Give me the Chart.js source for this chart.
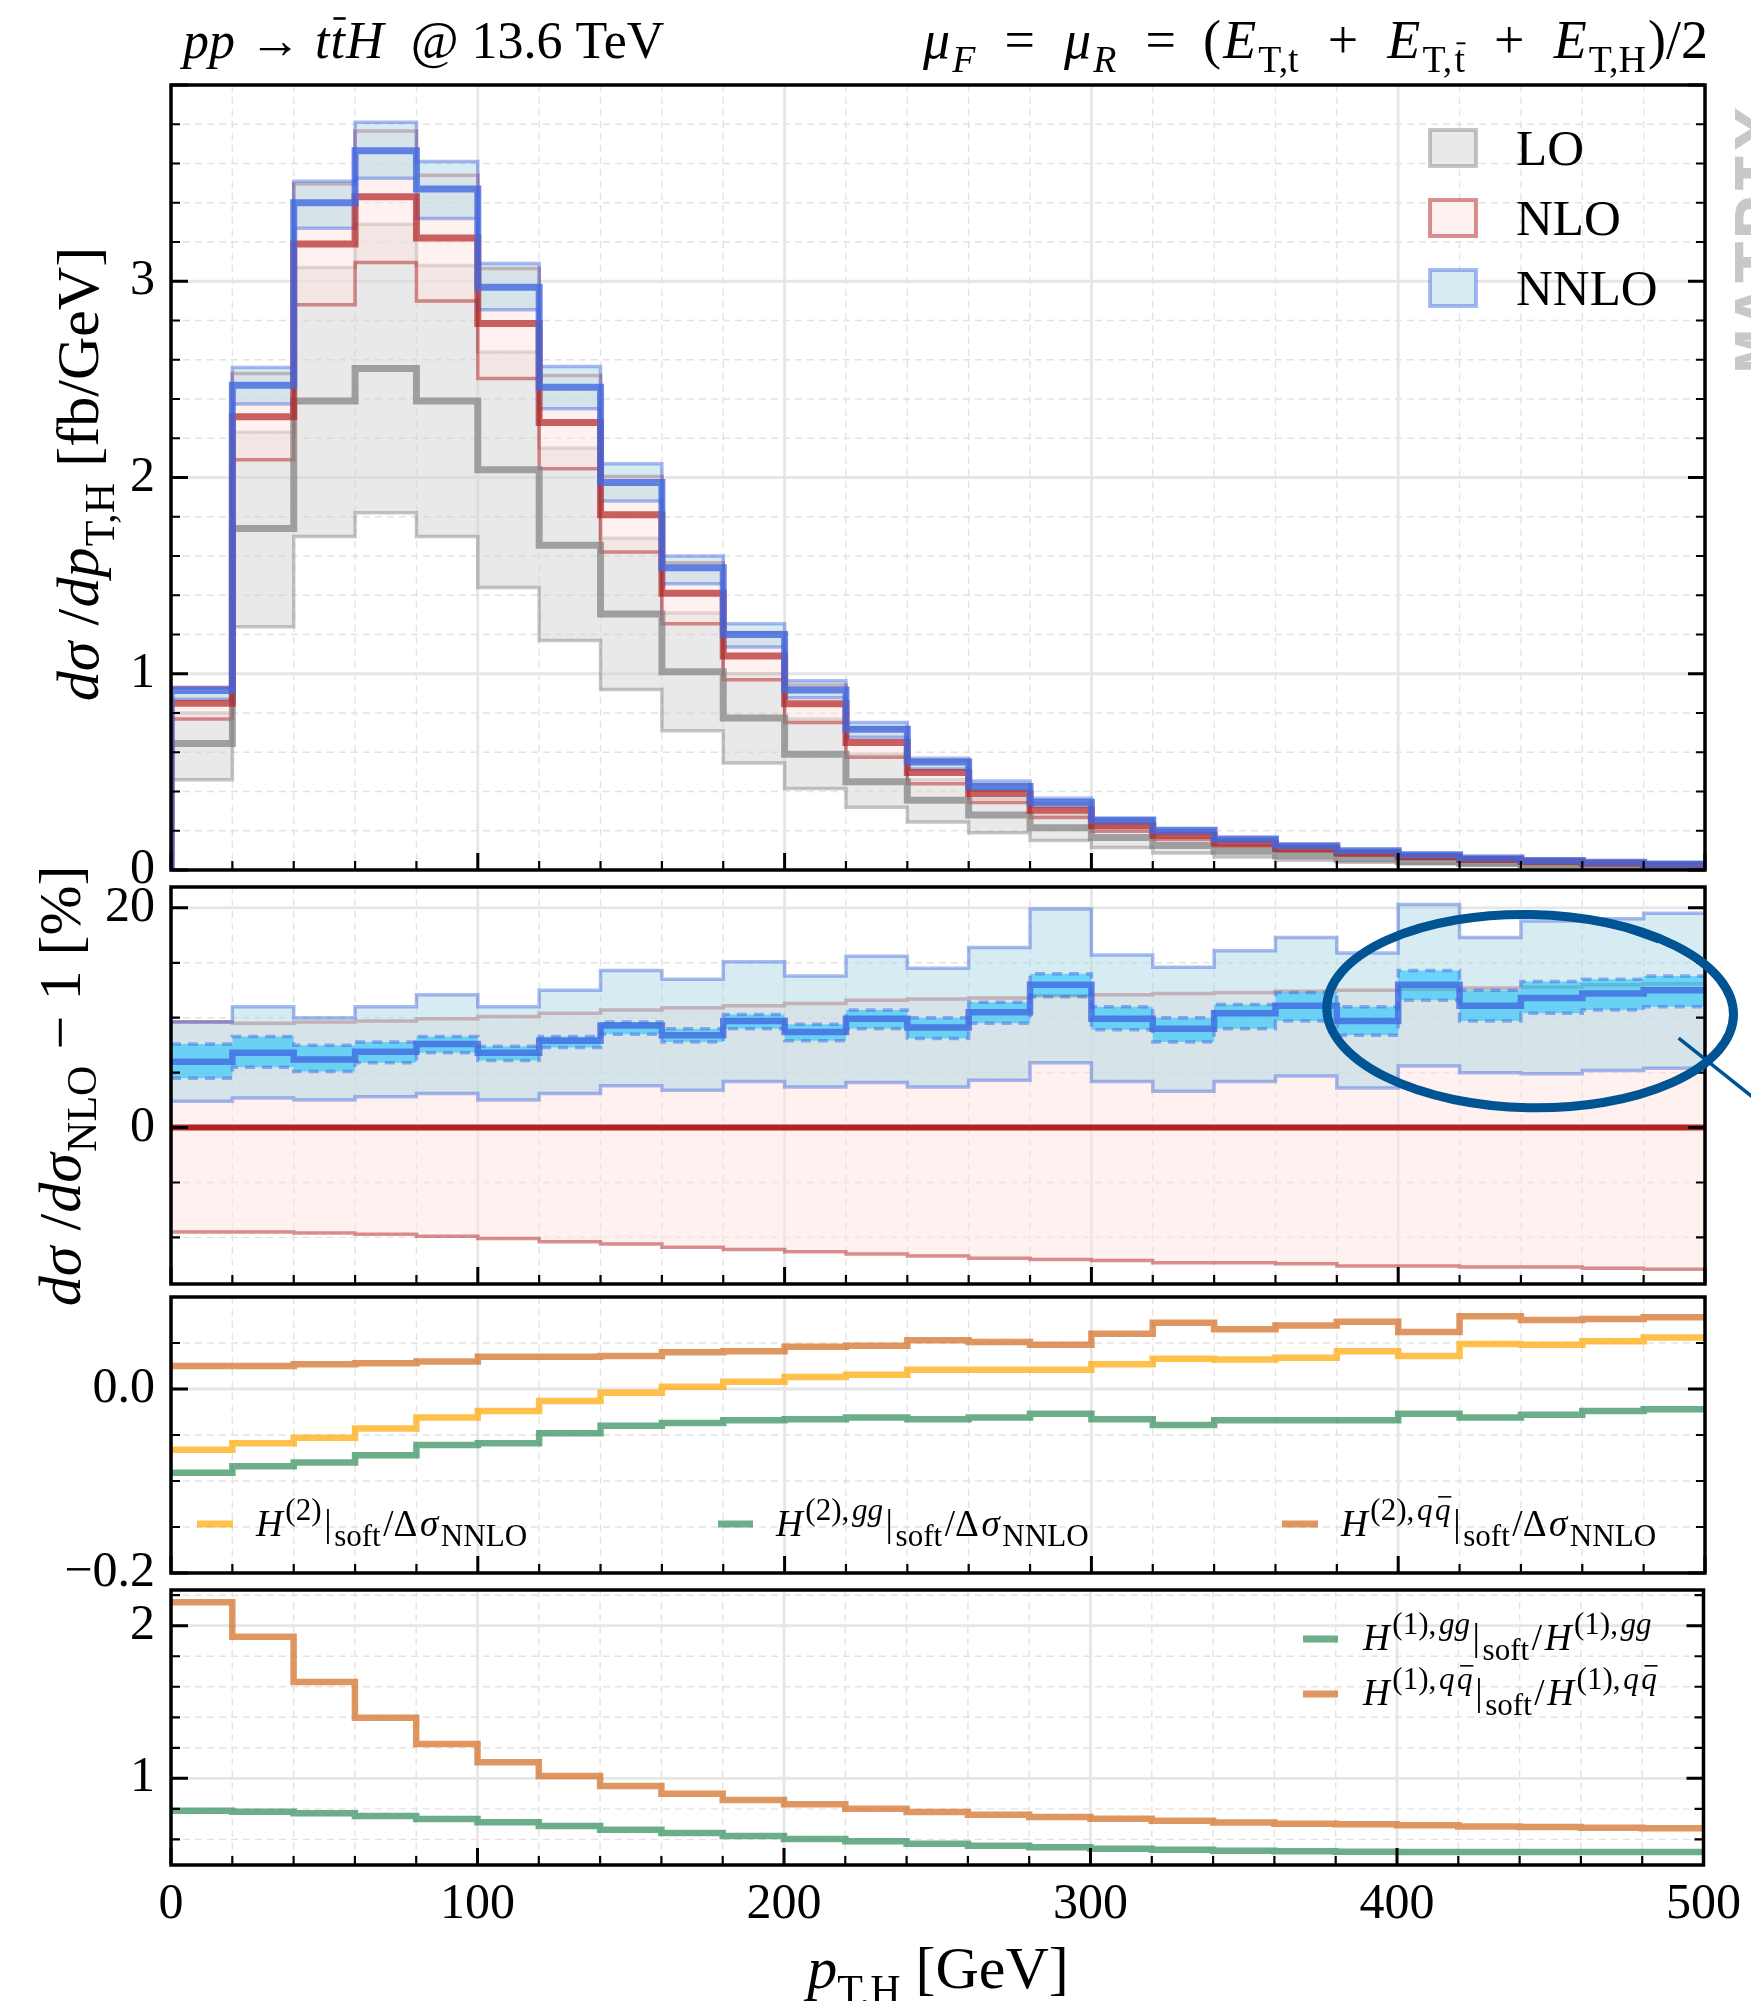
<!DOCTYPE html>
<html>
<head>
<meta charset="utf-8">
<script src="https://cdn.jsdelivr.net/npm/chart.js@4.4.1/dist/chart.umd.min.js"></script>
<style>
  html, body { margin: 0; padding: 0; background: #fff; }
  #wrap { position: relative; width: 1751px; height: 2001px; overflow: hidden; }
  #wrap canvas { position: absolute; left: 0; top: 0; }
</style>
</head>
<body>
<div id="wrap">
  <canvas id="c_dist" width="1751" height="2001"></canvas>
  <canvas id="c_ratio" width="1751" height="2001"></canvas>
  <canvas id="c_h2" width="1751" height="2001"></canvas>
  <canvas id="c_h1" width="1751" height="2001"></canvas>
</div>
<script>
// bin edges in p_T,H [GeV]
const binEdges = [0, 20, 40, 60, 80, 100, 120, 140, 160, 180, 200, 220, 240, 260, 280, 300, 320, 340, 360, 380, 400, 420, 440, 460, 480, 500];
const xTicks = [0, 100, 200, 300, 400, 500];

// PANEL 1: d sigma / d pT,H [fb/GeV]
const loCentral = [0.645, 1.74, 2.39, 2.555, 2.39, 2.04, 1.655, 1.305, 1.01, 0.775, 0.59, 0.45, 0.355, 0.28, 0.215, 0.165, 0.125, 0.095, 0.073, 0.056, 0.043, 0.034, 0.027, 0.021, 0.017];
const loUpper = [0.80, 2.23, 3.07, 3.29, 3.08, 2.64, 2.15, 1.69, 1.31, 1.00, 0.77, 0.59, 0.46, 0.365, 0.28, 0.215, 0.165, 0.125, 0.096, 0.074, 0.057, 0.045, 0.036, 0.028, 0.022];
const loLower = [0.46, 1.24, 1.70, 1.82, 1.70, 1.44, 1.17, 0.92, 0.71, 0.545, 0.415, 0.32, 0.245, 0.19, 0.15, 0.115, 0.087, 0.066, 0.05, 0.039, 0.03, 0.024, 0.019, 0.015, 0.012];
const nloCentral = [0.85, 2.31, 3.19, 3.43, 3.22, 2.785, 2.28, 1.81, 1.41, 1.09, 0.847, 0.65, 0.497, 0.39, 0.305, 0.225, 0.177, 0.138, 0.11, 0.086, 0.068, 0.054, 0.043, 0.034, 0.027];
const nloUpper = [0.93, 2.53, 3.495, 3.765, 3.54, 3.065, 2.52, 2.005, 1.565, 1.21, 0.943, 0.725, 0.555, 0.436, 0.342, 0.252, 0.199, 0.155, 0.124, 0.097, 0.077, 0.061, 0.049, 0.038, 0.031];
const nloLower = [0.77, 2.09, 2.88, 3.095, 2.9, 2.505, 2.045, 1.62, 1.255, 0.97, 0.752, 0.575, 0.44, 0.344, 0.268, 0.198, 0.155, 0.121, 0.096, 0.075, 0.059, 0.047, 0.038, 0.03, 0.024];
const nnloCentral = [0.915, 2.47, 3.40, 3.665, 3.47, 2.97, 2.46, 1.975, 1.54, 1.20, 0.917, 0.717, 0.55, 0.425, 0.345, 0.255, 0.203, 0.158, 0.124, 0.098, 0.078, 0.061, 0.049, 0.039, 0.031];
const nnloUpper = [0.93, 2.56, 3.51, 3.81, 3.61, 3.09, 2.565, 2.07, 1.60, 1.255, 0.964, 0.752, 0.569, 0.454, 0.366, 0.26, 0.203, 0.16, 0.129, 0.1, 0.082, 0.063, 0.051, 0.04, 0.032];
const nnloLower = [0.87, 2.375, 3.27, 3.525, 3.32, 2.855, 2.35, 1.88, 1.458, 1.136, 0.878, 0.677, 0.515, 0.407, 0.323, 0.234, 0.183, 0.144, 0.115, 0.089, 0.072, 0.057, 0.045, 0.036, 0.028];
const distTicks = [0, 1, 2, 3];

// PANEL 2: ratio to NLO - 1 [%]
const ratioNlo = [0, 0, 0, 0, 0, 0, 0, 0, 0, 0, 0, 0, 0, 0, 0, 0, 0, 0, 0, 0, 0, 0, 0, 0, 0];
const ratioNloUp = [9.6, 9.5, 9.6, 9.7, 9.9, 10.1, 10.4, 10.7, 10.9, 11.1, 11.3, 11.6, 11.7, 11.8, 12.0, 12.1, 12.2, 12.3, 12.4, 12.5, 12.6, 12.7, 12.8, 13.0, 13.1];
const ratioNloDown = [-9.5, -9.5, -9.6, -9.7, -9.9, -10.1, -10.4, -10.6, -10.9, -11.1, -11.3, -11.5, -11.7, -11.9, -12.0, -12.1, -12.3, -12.3, -12.4, -12.6, -12.6, -12.7, -12.7, -12.8, -12.9];
const ratioNnlo = [6.0, 6.8, 6.2, 6.9, 7.6, 6.8, 7.9, 9.3, 8.4, 9.7, 8.7, 9.9, 9.1, 10.5, 13.0, 9.9, 9.0, 10.4, 11.1, 9.7, 13.0, 11.1, 11.8, 12.2, 12.5];
const ratioNnloUp = [9.6, 11.0, 10.0, 11.0, 12.1, 11.0, 12.5, 14.3, 13.5, 15.1, 13.8, 15.6, 14.5, 16.4, 19.9, 15.7, 14.6, 16.1, 17.3, 15.9, 20.3, 17.3, 18.8, 19.0, 19.5];
const ratioNnloDown = [2.4, 2.7, 2.5, 2.8, 3.1, 2.5, 3.1, 3.8, 3.4, 4.2, 3.7, 4.1, 3.7, 4.3, 5.9, 4.2, 3.3, 4.2, 4.7, 3.6, 5.6, 5.0, 4.9, 5.2, 5.4];
const ratioNumUp = [7.6, 8.3, 7.5, 7.8, 8.3, 7.4, 8.3, 9.6, 9.0, 10.3, 9.4, 10.7, 10.0, 11.4, 14.0, 11.0, 10.0, 11.2, 12.3, 11.0, 14.3, 12.5, 13.3, 13.5, 13.8];
const ratioNumDown = [4.5, 5.5, 5.1, 5.9, 6.8, 6.1, 7.3, 8.5, 7.8, 9.0, 7.9, 9.0, 8.1, 9.5, 11.9, 8.9, 7.8, 9.0, 9.7, 8.4, 11.6, 9.7, 10.4, 10.7, 11.0];
const ratioTicks = [0, 20];

// PANEL 3: H(2) soft / delta sigma NNLO
const h2SoftTotal = [-0.066, -0.059, -0.053, -0.043, -0.031, -0.024, -0.013, -0.004, 0.0025, 0.008, 0.013, 0.0156, 0.021, 0.021, 0.021, 0.027, 0.033, 0.032, 0.034, 0.041, 0.036, 0.049, 0.048, 0.052, 0.056];
const h2SoftGG = [-0.091, -0.084, -0.080, -0.072, -0.061, -0.059, -0.048, -0.040, -0.037, -0.034, -0.033, -0.031, -0.033, -0.031, -0.027, -0.033, -0.039, -0.034, -0.034, -0.034, -0.027, -0.031, -0.028, -0.024, -0.022];
const h2SoftQQ = [0.025, 0.025, 0.027, 0.028, 0.030, 0.035, 0.035, 0.036, 0.040, 0.041, 0.046, 0.047, 0.053, 0.051, 0.048, 0.060, 0.072, 0.065, 0.069, 0.073, 0.062, 0.079, 0.075, 0.076, 0.078];
const h2Ticks = [-0.2, 0];

// PANEL 4: H(1) soft / H(1)
const h1SoftGG = [0.788, 0.781, 0.771, 0.753, 0.733, 0.712, 0.687, 0.663, 0.642, 0.622, 0.602, 0.587, 0.571, 0.558, 0.548, 0.539, 0.532, 0.526, 0.522, 0.519, 0.517, 0.517, 0.517, 0.517, 0.517];
const h1SoftQQ = [2.153, 1.928, 1.631, 1.397, 1.225, 1.105, 1.015, 0.95, 0.899, 0.858, 0.83, 0.801, 0.779, 0.762, 0.747, 0.735, 0.722, 0.711, 0.703, 0.699, 0.692, 0.685, 0.681, 0.676, 0.672];
const h1Ticks = [1, 2];

const SERIF = '"Liberation Serif", "DejaVu Serif", serif';
Chart.defaults.font.family = SERIF;
Chart.defaults.color = '#000';

const C = {
  loLine: 'rgba(128,128,128,0.7)', loEdge: 'rgba(128,128,128,0.45)', loBand: 'rgba(211,211,211,0.5)',
  nloLine: 'rgba(178,34,34,0.7)', nloEdge: 'rgba(178,34,34,0.5)', nloBand: 'rgba(255,228,225,0.5)',
  nloSolid: 'rgb(178,34,34)',
  nnloLine: 'rgba(65,105,225,0.8)', nnloEdge: 'rgba(65,105,225,0.45)', nnloBand: 'rgba(173,216,230,0.5)',
  numEdge: 'rgba(65,105,225,0.5)', numBand: 'rgba(0,191,255,0.5)',
  yellow: 'rgba(255,165,0,0.7)', green: 'rgba(46,139,87,0.7)', brown: 'rgba(210,105,30,0.7)'
};

function stairs(vals, fromZero) {
  const pts = fromZero ? [{ x: binEdges[0], y: 0 }] : [];
  vals.forEach((v, i) => pts.push({ x: binEdges[i], y: v }));
  pts.push({ x: binEdges[vals.length], y: vals[vals.length - 1] });
  return pts;
}

function stepLine(label, vals, color, width, order, more) {
  const o = more || {};
  return {
    label: label,
    data: stairs(vals, o.fromZero),
    borderColor: color,
    borderWidth: width,
    borderDash: o.dash || [],
    backgroundColor: o.fillColor || 'transparent',
    fill: o.fillColor ? '+1' : false,
    stepped: true,
    pointRadius: 0,
    borderJoinStyle: 'miter',
    borderCapStyle: 'butt',
    order: order
  };
}

function multiples(min, max, step) {
  const out = [];
  for (let k = Math.ceil(min / step - 1e-6); k * step <= max + 1e-6; k++) out.push(+(k * step).toFixed(6));
  return out;
}
function isMajor(v, major) {
  const r = v / major;
  return Math.abs(r - Math.round(r)) < 1e-6;
}

// grid behind, frame + inward ticks on top
const framePlugin = {
  id: 'frame',
  beforeDatasetsDraw(chart, args, o) {
    const { ctx, chartArea: a, scales: { x, y } } = chart;
    ctx.save();
    ctx.beginPath();
    ctx.rect(a.left, a.top, a.right - a.left, a.bottom - a.top);
    ctx.clip();
    const vline = v => { const p = x.getPixelForValue(v); ctx.beginPath(); ctx.moveTo(p, a.top); ctx.lineTo(p, a.bottom); ctx.stroke(); };
    const hline = v => { const p = y.getPixelForValue(v); ctx.beginPath(); ctx.moveTo(a.left, p); ctx.lineTo(a.right, p); ctx.stroke(); };
    ctx.setLineDash([7, 5]);
    ctx.lineWidth = 1.4;
    ctx.strokeStyle = '#e3e3e3';
    multiples(x.min, x.max, o.xMinor).filter(v => !isMajor(v, o.xMajor)).forEach(vline);
    multiples(y.min, y.max, o.yMinor).filter(v => !isMajor(v, o.yMajor)).forEach(hline);
    ctx.setLineDash([]);
    ctx.lineWidth = 2.8;
    ctx.strokeStyle = '#e6e6e6';
    multiples(x.min, x.max, o.xMajor).forEach(vline);
    multiples(y.min, y.max, o.yMajor).forEach(hline);
    ctx.restore();
  },
  afterDatasetsDraw(chart, args, o) {
    const { ctx, chartArea: a, scales: { x, y } } = chart;
    ctx.save();
    ctx.strokeStyle = '#000';
    multiples(y.min, y.max, o.yMinor).forEach(v => {
      const major = isMajor(v, o.yMajor);
      const len = major ? 17 : 9;
      const p = y.getPixelForValue(v);
      ctx.lineWidth = major ? 3 : 2.2;
      ctx.beginPath();
      ctx.moveTo(a.left, p); ctx.lineTo(a.left + len, p);
      ctx.moveTo(a.right, p); ctx.lineTo(a.right - len, p);
      ctx.stroke();
    });
    multiples(x.min, x.max, o.xMinor).forEach(v => {
      const major = isMajor(v, o.xMajor);
      const len = major ? 17 : 9;
      const p = x.getPixelForValue(v);
      ctx.lineWidth = major ? 3 : 2.2;
      ctx.beginPath();
      ctx.moveTo(p, a.bottom); ctx.lineTo(p, a.bottom - len);
      ctx.stroke();
    });
    ctx.lineWidth = 3.5;
    ctx.strokeRect(a.left, a.top, a.right - a.left, a.bottom - a.top);
    ctx.restore();
  }
};

// hand-drawn circle around the high pT region of the ratio panel
const ringPlugin = {
  id: 'ring',
  afterDatasetsDraw(chart) {
    const { ctx, scales: { x, y } } = chart;
    const cx = x.getPixelForValue(443), cy = y.getPixelForValue(10.6);
    const rx = x.getPixelForValue(443 + 66.3) - cx;
    const ry = cy - y.getPixelForValue(10.6 + 8.8);
    ctx.save();
    ctx.strokeStyle = '#005493';
    ctx.lineWidth = 9;
    ctx.beginPath();
    ctx.ellipse(cx, cy, rx, ry, 0.02, 0, Math.PI * 2);
    ctx.stroke();
    ctx.lineWidth = 3.5;
    ctx.beginPath();
    ctx.moveTo(cx + rx * 0.73, cy + ry * 0.28);
    ctx.lineTo(cx + rx * 1.1, cy + ry * 0.9);
    ctx.moveTo(cx + rx * 0.35, cy - ry * 0.93);
    ctx.lineTo(cx + rx * 0.63, cy - ry * 0.72);
    ctx.stroke();
    ctx.restore();
  }
};

// small math text helper
const m = (t, f = '') => ({ t: t, i: f.includes('i'), sub: f.includes('b'), sup: f.includes('p'), bar: f.includes('o') });

function segSize(seg, size, sc) { return (seg.sub || seg.sup) ? size * sc : size; }
function drawMath(ctx, segs, x, y, size, opt) {
  const o = opt || {};
  const sc = o.subScale || 0.7, gap = (o.gap || 0) * size, align = o.align || 'left';
  let w = 0;
  segs.forEach(s => { ctx.font = (s.i ? 'italic ' : '') + segSize(s, size, sc) + 'px ' + SERIF; w += ctx.measureText(s.t).width + gap; });
  w -= gap;
  let cx = align === 'center' ? x - w / 2 : align === 'right' ? x - w : x;
  ctx.textAlign = 'left';
  ctx.textBaseline = 'alphabetic';
  segs.forEach(s => {
    const fs = segSize(s, size, sc);
    ctx.font = (s.i ? 'italic ' : '') + fs + 'px ' + SERIF;
    const dy = s.sub ? size * 0.26 : s.sup ? -size * 0.42 : 0;
    const sw = ctx.measureText(s.t).width;
    ctx.fillText(s.t, cx, y + dy);
    if (s.bar) {
      ctx.save();
      ctx.strokeStyle = ctx.fillStyle;
      ctx.lineWidth = Math.max(1.5, fs * 0.05);
      ctx.beginPath();
      ctx.moveTo(cx + sw * 0.2, y + dy - fs * 0.76);
      ctx.lineTo(cx + sw * 1.05, y + dy - fs * 0.76);
      ctx.stroke();
      ctx.restore();
    }
    cx += sw + gap;
  });
}

const labelPlugin = {
  id: 'labels',
  afterDraw(chart) {
    const ctx = chart.ctx;
    ctx.save();
    ctx.fillStyle = '#000';
    // titles
    drawMath(ctx, [m('pp', 'i'), m(' → '), m('t', 'i'), m('t', 'io'), m('H', 'i'), m('  @ 13.6 TeV')], 183, 58, 52, { gap: 0.02 });
    drawMath(ctx, [m('μ', 'i'), m('F', 'ib'), m('  =  '), m('μ', 'i'), m('R', 'ib'), m('  =  ('), m('E', 'i'), m('T,t', 'b'),
      m('  +  '), m('E', 'i'), m('T,', 'b'), m('t', 'bo'), m('  +  '), m('E', 'i'), m('T,H', 'b'), m(')/2')], 1708, 58, 54, { align: 'right', gap: 0.04 });
    // y titles
    ctx.save();
    ctx.translate(98, 474);
    ctx.rotate(-Math.PI / 2);
    drawMath(ctx, [m('dσ', 'i'), m(' /'), m('dp', 'i'), m('T,H', 'b'), m(' [fb/GeV]')], 0, 0, 60, { align: 'center', gap: 0.02 });
    ctx.restore();
    ctx.save();
    ctx.translate(80, 1086);
    ctx.rotate(-Math.PI / 2);
    drawMath(ctx, [m('dσ', 'i'), m(' /'), m('dσ', 'i'), m('NLO', 'b'), m(' − 1 [%]')], 0, 0, 60, { align: 'center', gap: 0.02 });
    ctx.restore();
    // x title
    drawMath(ctx, [m('p', 'i'), m('T,H', 'b'), m(' [GeV]')], 938, 1988, 60, { align: 'center' });

    // legend of the distribution panel
    const orders = [['LO', C.loBand, C.loEdge], ['NLO', C.nloBand, C.nloEdge], ['NNLO', C.nnloBand, C.nnloEdge]];
    orders.forEach((e, i) => {
      const cy = 148 + i * 70;
      ctx.fillStyle = '#fff';
      ctx.fillRect(1430, cy - 18, 46, 36);
      ctx.fillStyle = e[1];
      ctx.fillRect(1430, cy - 18, 46, 36);
      ctx.strokeStyle = e[2];
      ctx.lineWidth = 4;
      ctx.strokeRect(1430, cy - 18, 46, 36);
      ctx.fillStyle = '#000';
      ctx.font = '51px ' + SERIF;
      ctx.textBaseline = 'alphabetic';
      ctx.fillText(e[0], 1516, cy + 17);
    });

    // legends of the soft-limit panels
    const handle = (x0, x1, y, col) => {
      ctx.strokeStyle = col; ctx.lineWidth = 7;
      ctx.beginPath(); ctx.moveTo(x0, y); ctx.lineTo(x1, y); ctx.stroke();
    };
    const lopt = { subScale: 0.84, gap: 0.07 };
    ctx.fillStyle = '#000';
    handle(197, 233, 1524, C.yellow);
    drawMath(ctx, [m('H', 'i'), m('(2)', 'p'), m('|'), m('soft', 'b'), m('/Δ'), m('σ', 'i'), m('NNLO', 'b')], 256, 1536, 37, lopt);
    handle(718, 753, 1524, C.green);
    drawMath(ctx, [m('H', 'i'), m('(2),', 'p'), m('gg', 'pi'), m('|'), m('soft', 'b'), m('/Δ'), m('σ', 'i'), m('NNLO', 'b')], 776, 1536, 37, lopt);
    handle(1282, 1318, 1524, C.brown);
    drawMath(ctx, [m('H', 'i'), m('(2),', 'p'), m('q', 'pi'), m('q', 'pio'), m('|'), m('soft', 'b'), m('/Δ'), m('σ', 'i'), m('NNLO', 'b')], 1341, 1536, 37, lopt);

    handle(1303, 1338, 1639, C.green);
    drawMath(ctx, [m('H', 'i'), m('(1),', 'p'), m('gg', 'pi'), m('|'), m('soft', 'b'), m('/'), m('H', 'i'), m('(1),', 'p'), m('gg', 'pi')], 1363, 1650, 37, lopt);
    handle(1303, 1338, 1694, C.brown);
    drawMath(ctx, [m('H', 'i'), m('(1),', 'p'), m('q', 'pi'), m('q', 'pio'), m('|'), m('soft', 'b'), m('/'), m('H', 'i'), m('(1),', 'p'), m('q', 'pi'), m('q', 'pio')], 1363, 1705, 37, lopt);

    // watermark
    ctx.save();
    ctx.translate(1784, 240);
    ctx.rotate(-Math.PI / 2);
    ctx.font = 'bold 74px "Liberation Mono", monospace';
    ctx.fillStyle = '#c8c8c8';
    ctx.textAlign = 'center';
    ctx.fillText('MATRIX', 0, 0);
    ctx.restore();
    ctx.restore();
  }
};

function panelOptions(top, bottom, yMin, yMax, yTicks, frame, fmt, showX) {
  return {
    responsive: false,
    animation: false,
    events: [],
    layout: { padding: { left: 0, right: 46, top: top, bottom: bottom } },
    plugins: { legend: { display: false }, tooltip: { enabled: false }, frame: frame },
    scales: {
      x: {
        type: 'linear', min: 0, max: 500, display: !!showX,
        afterBuildTicks: s => { s.ticks = xTicks.map(v => ({ value: v })); },
        afterFit: s => { if (showX) s.height = 136; },
        ticks: { font: { size: 50, family: SERIF }, color: '#000', padding: 10, maxRotation: 0, autoSkip: false },
        grid: { display: false, drawTicks: false },
        border: { display: false }
      },
      y: {
        type: 'linear', min: yMin, max: yMax,
        afterBuildTicks: s => { s.ticks = yTicks.map(v => ({ value: v })); },
        afterFit: s => { s.width = 171; },
        ticks: { font: { size: 50, family: SERIF }, color: '#000', padding: 16, callback: fmt },
        grid: { display: false, drawTicks: false },
        border: { display: false }
      }
    }
  };
}

const intFmt = v => String(v);
const decFmt = v => (v < 0 ? '−' : '') + Math.abs(v).toFixed(1);

new Chart(document.getElementById('c_dist'), {
  type: 'line',
  data: {
    datasets: [
      stepLine('NNLO', nnloCentral, C.nnloLine, 7, 1, { fromZero: true }),
      stepLine('NLO', nloCentral, C.nloLine, 7, 2, { fromZero: true }),
      stepLine('LO', loCentral, C.loLine, 7, 3, { fromZero: true }),
      stepLine('NNLO upper', nnloUpper, C.nnloEdge, 3.5, 4.6, { fillColor: C.nnloBand }),
      stepLine('NNLO lower', nnloLower, C.nnloEdge, 3.5, 4.4),
      stepLine('NLO upper', nloUpper, C.nloEdge, 3.5, 5.6, { fillColor: C.nloBand }),
      stepLine('NLO lower', nloLower, C.nloEdge, 3.5, 5.4),
      stepLine('LO upper', loUpper, C.loEdge, 3.5, 6.6, { fillColor: C.loBand }),
      stepLine('LO lower', loLower, C.loEdge, 3.5, 6.4)
    ]
  },
  options: panelOptions(85, 2001 - 870, 0, 4.0, distTicks, { xMinor: 20, xMajor: 100, yMinor: 0.2, yMajor: 1 }, intFmt),
  plugins: [framePlugin]
});

new Chart(document.getElementById('c_ratio'), {
  type: 'line',
  data: {
    datasets: [
      stepLine('NLO', ratioNlo, C.nloSolid, 6, 1),
      stepLine('NNLO', ratioNnlo, C.nnloLine, 6.5, 2),
      stepLine('NNLO num. upper', ratioNumUp, C.numEdge, 3.5, 3.6, { fillColor: C.numBand, dash: [10, 7] }),
      stepLine('NNLO num. lower', ratioNumDown, C.numEdge, 3.5, 3.4, { dash: [10, 7] }),
      stepLine('NNLO upper', ratioNnloUp, C.nnloEdge, 3.5, 4.6, { fillColor: C.nnloBand }),
      stepLine('NNLO lower', ratioNnloDown, C.nnloEdge, 3.5, 4.4),
      stepLine('NLO upper', ratioNloUp, C.nloEdge, 3.5, 5.6, { fillColor: C.nloBand }),
      stepLine('NLO lower', ratioNloDown, C.nloEdge, 3.5, 5.4)
    ]
  },
  options: panelOptions(887, 2001 - 1284, -14.24, 21.9, ratioTicks, { xMinor: 20, xMajor: 100, yMinor: 5, yMajor: 20 }, intFmt),
  plugins: [framePlugin, ringPlugin]
});

new Chart(document.getElementById('c_h2'), {
  type: 'line',
  data: {
    datasets: [
      stepLine('H2 soft', h2SoftTotal, C.yellow, 6.5, 1),
      stepLine('H2 gg soft', h2SoftGG, C.green, 6.5, 2),
      stepLine('H2 qqbar soft', h2SoftQQ, C.brown, 6.5, 3)
    ]
  },
  options: panelOptions(1297, 2001 - 1573, -0.2, 0.1, h2Ticks, { xMinor: 20, xMajor: 100, yMinor: 0.05, yMajor: 0.2 }, decFmt),
  plugins: [framePlugin]
});

new Chart(document.getElementById('c_h1'), {
  type: 'line',
  data: {
    datasets: [
      stepLine('H1 gg soft', h1SoftGG, C.green, 6.5, 1),
      stepLine('H1 qqbar soft', h1SoftQQ, C.brown, 6.5, 2)
    ]
  },
  options: panelOptions(1590, 0, 0.432, 2.234, h1Ticks, { xMinor: 20, xMajor: 100, yMinor: 0.2, yMajor: 1 }, intFmt, true),
  plugins: [framePlugin, labelPlugin]
});
</script>
</body>
</html>
